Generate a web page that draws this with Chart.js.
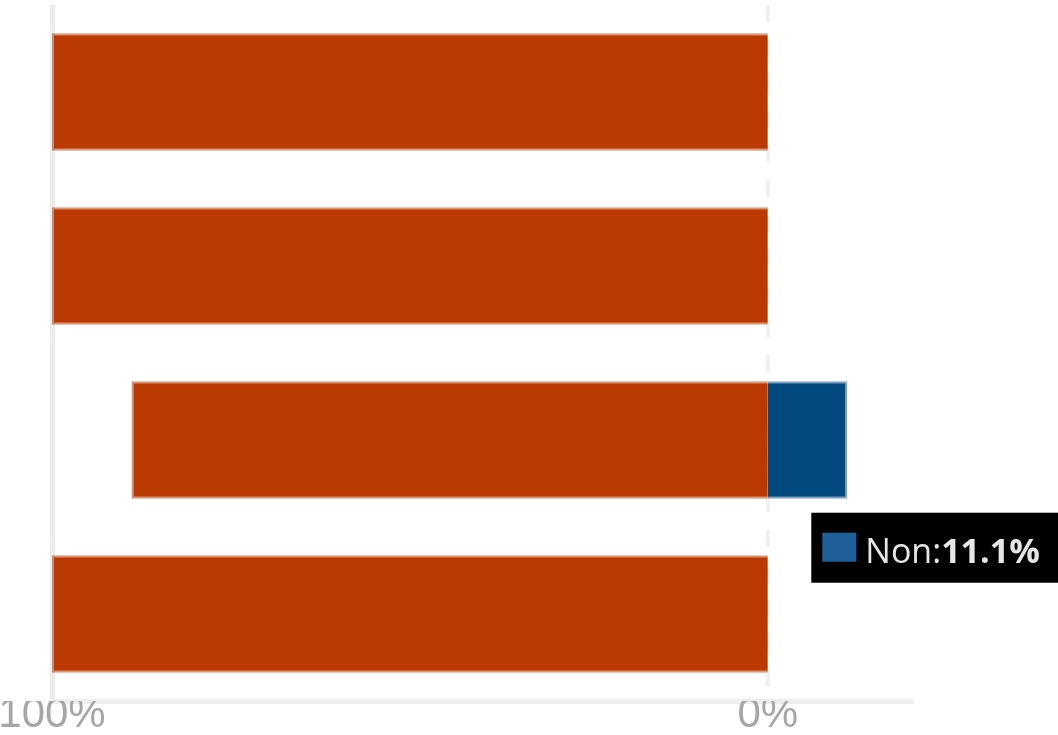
<html>
    <head>
        <title>Oui / Non</title>
        <style>
            html, body { margin: 0; padding: 0; overflow: hidden; background: #fff; }
        </style>
    </head>
    <body>
        <canvas id="myChart" width="1058" height="770"></canvas>
        <script src="https://cdn.jsdelivr.net/npm/chart.js@4/dist/chart.umd.min.js"></script>
        <script>
            var categories = ['1', '2', '3', '4'];
            var ouiValues = [100, 100, 88.9, 100]; // drawn to the left
            var nonValues = [0, 0, 11.1, 0];       // drawn to the right
            var tickValues = [-100, 0];
            var tooltipIndex = 2;

            var orange = '#bb3a03';
            var blue = '#02497f';

            // dashed zero line + the little black tooltip on the Non bar
            var extras = {
                id: 'extras',
                beforeDatasetsDraw: function(chart) {
                    var ctx = chart.ctx;
                    var x = chart.scales.x.getPixelForValue(0);
                    ctx.save();
                    ctx.strokeStyle = '#f1f1f1';
                    ctx.lineWidth = 4;
                    ctx.setLineDash([17, 18]);
                    ctx.beginPath();
                    ctx.moveTo(x, chart.chartArea.top);
                    ctx.lineTo(x, chart.chartArea.bottom);
                    ctx.stroke();
                    ctx.restore();
                },
                afterDraw: function(chart) {
                    var ctx = chart.ctx;
                    var el = chart.getDatasetMeta(1).data[tooltipIndex];
                    var left = el.x - 36;
                    var top = el.y + el.height / 2 + 14;
                    ctx.save();
                    ctx.fillStyle = '#000';
                    ctx.fillRect(left, top, 260, 70);
                    ctx.fillStyle = '#1f5f99';
                    ctx.fillRect(left + 11, top + 20, 34, 29);
                    ctx.fillStyle = '#e6e6e6';
                    ctx.textBaseline = 'alphabetic';
                    ctx.font = '34px "Open Sans"';
                    var lbl = 'Non:';
                    ctx.fillText(lbl, left + 54, top + 50);
                    var w = ctx.measureText(lbl).width;
                    ctx.font = 'bold 34px "Open Sans"';
                    ctx.fillText(nonValues[tooltipIndex].toFixed(1) + '%', left + 54 + w, top + 50);
                    ctx.restore();
                }
            };

            var ctx = document.getElementById('myChart').getContext('2d');
            var chart = new Chart(ctx, {
                type: 'bar',
                data: {
                    labels: categories,
                    datasets: [{
                        label: 'Oui',
                        data: ouiValues.map(function(v) { return -v; }),
                        backgroundColor: orange,
                        borderColor: 'rgba(187,58,3,0.55)',
                        borderWidth: { top: 2, bottom: 2, left: 2, right: 0 },
                        borderSkipped: false,
                        barPercentage: 0.675,
                        categoryPercentage: 1
                    }, {
                        label: 'Non',
                        data: nonValues,
                        backgroundColor: blue,
                        borderColor: 'rgba(2,73,127,0.5)',
                        borderWidth: { top: 2, bottom: 2, left: 0, right: 2 },
                        borderSkipped: false,
                        barPercentage: 0.675,
                        categoryPercentage: 1
                    }]
                },
                options: {
                    indexAxis: 'y',
                    responsive: false,
                    animation: false,
                    layout: { padding: { left: 52, right: 147, top: 5, bottom: 0 } },
                    plugins: {
                        legend: { display: false },
                        tooltip: { enabled: false }
                    },
                    scales: {
                        x: {
                            stacked: true,
                            min: -100,
                            max: 20,
                            afterBuildTicks: function(scale) {
                                scale.ticks = tickValues.map(function(v) { return { value: v }; });
                            },
                            afterFit: function(scale) { scale.height = 69; },
                            grid: {
                                drawTicks: false,
                                lineWidth: function(c) { return c.tick && c.tick.value === -100 ? 5 : 0; },
                                color: '#ececec'
                            },
                            border: { display: true, color: '#eeeeee', width: 5 },
                            ticks: {
                                padding: -11,
                                color: '#a6a6a6',
                                font: { family: 'Liberation Sans', size: 42 },
                                maxRotation: 0,
                                callback: function(v) { return Math.abs(v) + '%'; }
                            }
                        },
                        y: {
                            stacked: true,
                            display: false
                        }
                    }
                },
                plugins: [extras]
            });
        </script>
    </body>
</html>
